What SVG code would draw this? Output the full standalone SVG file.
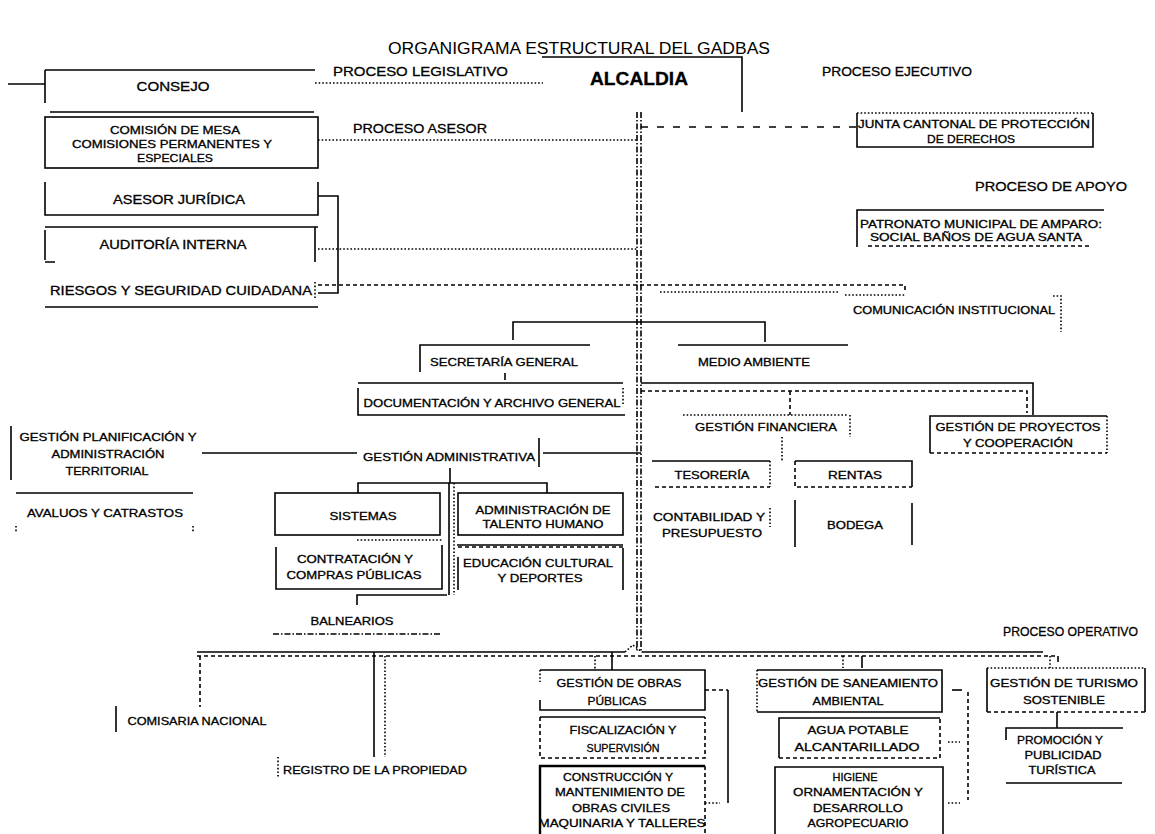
<svg xmlns="http://www.w3.org/2000/svg" width="1155" height="834" viewBox="0 0 1155 834">
<style>
.s{stroke:#000;stroke-width:1.6;fill:none}
.d{stroke-dasharray:4 3}
.o{stroke-dasharray:1.6 2}
.dd{stroke-dasharray:6 2 1.5 2}
.lg{stroke-dasharray:7 9}
text{font-family:"Liberation Sans",Arial,sans-serif;fill:#000;text-anchor:middle;font-size:11px;stroke:#000;stroke-width:0.3}
.p{font-size:13px;text-anchor:start}
.b{font-size:12px}
.ti{font-size:16px;stroke-width:0}
</style>
<rect width="1155" height="834" fill="#fff"/>
<text class="ti" x="579" y="54" textLength="382" lengthAdjust="spacingAndGlyphs">ORGANIGRAMA ESTRUCTURAL DEL GADBAS</text>

<g id="connectors">
<path class="s" d="M8,84 H45"/>
<path class="s o" d="M315,83 H543"/>
<path class="s o" d="M318,140 H637"/>
<path class="s" d="M318,196 H338 V293 H318"/>
<path class="s o" d="M318,249 H637"/>
<path class="s d" d="M318,285 H905 V293"/>
<path class="s o" d="M660,292 H840"/>
<path class="s o" d="M845,295 H905"/>
<path class="s dd" d="M637,112 V651"/>
<path class="s dd" d="M641,112 V651"/>
<path class="s lg" d="M641,127 H857"/>
<path class="s" d="M513,340 V322 H765 V342"/>
<path class="s" d="M641,383 H1033 V415"/>
<path class="s d" d="M641,391 H1027 V413"/>
<path class="s d" d="M790,391 V415"/>
<path class="s o" d="M782,437 V461"/>
<path class="s" d="M543,453 H641"/>
<path class="s" d="M202,453 H357"/>
<path class="s" d="M450,468 V483"/>
<path class="s" d="M358,493 V483 H547 V493"/>
<path class="s" d="M449,483 V595"/>
<path class="s o" d="M454,483 V595"/>
<path class="s o" d="M357,540 H443"/>
<path class="s" d="M457,545 H623"/>
<path class="s" d="M357,605 V595 H447"/>
<path class="s" d="M197,652 H625 M642,652 H1043"/>
<path class="s d" d="M197,656 H1058"/>
<path class="s o" d="M625,652 L633,645 L642,652"/>
<path class="s d" d="M200,656 V707"/>
<path class="s" d="M374,652 V757"/>
<path class="s o" d="M385,656 V757"/>
<path class="s o" d="M595,656 V670"/>
<path class="s" d="M612,652 V670"/>
<path class="s d" d="M705,690 H728"/>
<path class="s" d="M728,690 V803"/>
<path class="s o" d="M705,803 H720"/>
<path class="s o" d="M843,656 V668"/>
<path class="s" d="M862,656 V668"/>
<path class="s" d="M952,690 H962"/>
<path class="s d" d="M968,692 V800"/>
<path class="s o" d="M948,742 H960 M948,803 H960"/>
<path class="s o" d="M1050,656 V668"/>
<path class="s" d="M1058,656 V662"/>
<path class="s" d="M1057,712 V728"/>
</g>

<g id="proceso-labels">
<text class="p" x="333" y="76" textLength="175" lengthAdjust="spacingAndGlyphs">PROCESO LEGISLATIVO</text>
<text class="p" x="822" y="76" textLength="150" lengthAdjust="spacingAndGlyphs">PROCESO EJECUTIVO</text>
<text class="p" x="353" y="133" textLength="134" lengthAdjust="spacingAndGlyphs">PROCESO ASESOR</text>
<text class="p" x="975" y="191" textLength="152" lengthAdjust="spacingAndGlyphs">PROCESO DE APOYO</text>
<text class="p" x="1003" y="636" textLength="135" lengthAdjust="spacingAndGlyphs">PROCESO OPERATIVO</text>
</g>

<g id="alcaldia">
<path class="s" d="M542,57 H742 V112"/>
<text x="639" y="85" style="font-size:18px;font-weight:bold" textLength="98" lengthAdjust="spacingAndGlyphs">ALCALDIA</text>
</g>

<g id="consejo">
<path class="s" d="M45,70 H315 M45,70 V103 M50,112 H314"/>
<text class="b" x="173" y="91" textLength="73" lengthAdjust="spacingAndGlyphs">CONSEJO</text>
</g>

<g id="comision">
<rect class="s" x="45" y="117" width="273" height="51"/>
<text x="175" y="134" textLength="130" lengthAdjust="spacingAndGlyphs">COMISIÓN DE MESA</text>
<text x="172" y="148" textLength="200" lengthAdjust="spacingAndGlyphs">COMISIONES PERMANENTES Y</text>
<text x="175" y="162" textLength="76" lengthAdjust="spacingAndGlyphs">ESPECIALES</text>
</g>

<g id="asesor">
<path class="s" d="M45,182 V215 H318 V182"/>
<text class="b" x="179" y="204" textLength="132" lengthAdjust="spacingAndGlyphs">ASESOR JURÍDICA</text>
</g>

<g id="auditoria">
<path class="s" d="M45,227 H318 M45,230 V260 M45,262 H55 M315,227 V262"/>
<text class="b" x="173" y="249" textLength="147" lengthAdjust="spacingAndGlyphs">AUDITORÍA INTERNA</text>
</g>

<g id="riesgos">
<path class="s" d="M45,307 H318"/>
<path class="s o" d="M315,282 V300"/>
<text class="b" x="181" y="295" textLength="262" lengthAdjust="spacingAndGlyphs">RIESGOS Y SEGURIDAD CUIDADANA</text>
</g>

<g id="junta">
<path class="s o" d="M857,113 H1093"/>
<path class="s" d="M857,113 V147 H1093 V113"/>
<text x="974" y="128" textLength="232" lengthAdjust="spacingAndGlyphs">JUNTA CANTONAL DE PROTECCIÓN</text>
<text x="971" y="143" textLength="88" lengthAdjust="spacingAndGlyphs">DE DERECHOS</text>
</g>

<g id="patronato">
<path class="s" d="M857,247 V210 H1104"/>
<path class="s d" d="M868,246 H1090"/>
<text x="981" y="228" textLength="242" lengthAdjust="spacingAndGlyphs">PATRONATO MUNICIPAL DE AMPARO:</text>
<text x="976" y="241" textLength="212" lengthAdjust="spacingAndGlyphs">SOCIAL BAÑOS DE AGUA SANTA</text>
</g>

<g id="comunicacion">
<path class="s o" d="M1053,296 H1061 V332"/>
<text x="954" y="314" textLength="202" lengthAdjust="spacingAndGlyphs">COMUNICACIÓN INSTITUCIONAL</text>
</g>

<g id="secretaria">
<path class="s" d="M420,372 V345 H590 M505,373 V380"/>
<text x="504" y="366" textLength="148" lengthAdjust="spacingAndGlyphs">SECRETARÍA GENERAL</text>
</g>

<g id="medio-ambiente">
<path class="s" d="M678,345 H848"/>
<text x="754" y="366" textLength="112" lengthAdjust="spacingAndGlyphs">MEDIO AMBIENTE</text>
</g>

<g id="documentacion">
<path class="s" d="M358,383 H623 M358,388 V415 H625"/>
<path class="s o" d="M623,388 V405"/>
<text x="492" y="407" textLength="257" lengthAdjust="spacingAndGlyphs">DOCUMENTACIÓN Y ARCHIVO GENERAL</text>
</g>

<g id="financiera">
<path class="s o" d="M683,415 H848 M850,415 V437"/>
<text x="766" y="431" textLength="142" lengthAdjust="spacingAndGlyphs">GESTIÓN FINANCIERA</text>
</g>

<g id="proyectos">
<path class="s" d="M930,453 V416 H1107"/>
<path class="s o" d="M1107,416 V453"/>
<path class="s d" d="M930,453 H1107"/>
<text x="1018" y="431" textLength="165" lengthAdjust="spacingAndGlyphs">GESTIÓN DE PROYECTOS</text>
<text x="1018" y="447" textLength="110" lengthAdjust="spacingAndGlyphs">Y COOPERACIÓN</text>
</g>

<g id="administrativa">
<path class="s" d="M539,438 V467"/>
<text x="449" y="461" textLength="172" lengthAdjust="spacingAndGlyphs">GESTIÓN ADMINISTRATIVA</text>
</g>

<g id="planificacion">
<path class="s" d="M11,426 V480"/>
<text x="108" y="441" textLength="177" lengthAdjust="spacingAndGlyphs">GESTIÓN PLANIFICACIÓN Y</text>
<text x="108" y="458" textLength="113" lengthAdjust="spacingAndGlyphs">ADMINISTRACIÓN</text>
<text x="107" y="475" textLength="83" lengthAdjust="spacingAndGlyphs">TERRITORIAL</text>
</g>

<g id="avaluos">
<path class="s" d="M16,493 H193"/>
<path class="s o" d="M16,526 V533 M193,526 V533"/>
<text x="105" y="517" textLength="156" lengthAdjust="spacingAndGlyphs">AVALUOS Y CATRASTOS</text>
</g>

<g id="tesoreria">
<path class="s" d="M652,461 H770"/>
<path class="s d" d="M655,487 H770"/>
<path class="s o" d="M770,461 V487"/>
<text x="712" y="479" textLength="75" lengthAdjust="spacingAndGlyphs">TESORERÍA</text>
</g>

<g id="rentas">
<path class="s" d="M795,461 H912 V487"/>
<path class="s d" d="M795,461 V487 H912"/>
<text x="855" y="479" textLength="54" lengthAdjust="spacingAndGlyphs">RENTAS</text>
</g>

<g id="contabilidad">
<path class="s o" d="M770,508 V527"/>
<text x="709" y="521" textLength="112" lengthAdjust="spacingAndGlyphs">CONTABILIDAD Y</text>
<text x="712" y="537" textLength="100" lengthAdjust="spacingAndGlyphs">PRESUPUESTO</text>
</g>

<g id="bodega">
<path class="s" d="M795,500 V547 M912,503 V545"/>
<text x="855" y="529" textLength="56" lengthAdjust="spacingAndGlyphs">BODEGA</text>
</g>

<g id="sistemas">
<rect class="s" x="275" y="493" width="165" height="42"/>
<text x="363" y="520" textLength="67" lengthAdjust="spacingAndGlyphs">SISTEMAS</text>
</g>

<g id="talento-humano">
<rect class="s" x="458" y="493" width="165" height="42"/>
<text x="543" y="514" textLength="135" lengthAdjust="spacingAndGlyphs">ADMINISTRACIÓN DE</text>
<text x="543" y="528" textLength="121" lengthAdjust="spacingAndGlyphs">TALENTO HUMANO</text>
</g>

<g id="contratacion">
<path class="s" d="M276,547 V589 H442 V545"/>
<text x="355" y="563" textLength="116" lengthAdjust="spacingAndGlyphs">CONTRATACIÓN Y</text>
<text x="354" y="579" textLength="135" lengthAdjust="spacingAndGlyphs">COMPRAS PÚBLICAS</text>
</g>

<g id="educacion">
<path class="s d" d="M458,547 H623"/>
<path class="s" d="M458,557 V590 M623,548 V590"/>
<text x="538" y="567" textLength="150" lengthAdjust="spacingAndGlyphs">EDUCACIÓN CULTURAL</text>
<text x="540" y="582" textLength="85" lengthAdjust="spacingAndGlyphs">Y DEPORTES</text>
</g>

<g id="balnearios">
<path class="s dd" d="M273,634 H440"/>
<text x="352" y="625" textLength="83" lengthAdjust="spacingAndGlyphs">BALNEARIOS</text>
</g>

<g id="comisaria">
<path class="s" d="M116,706 V732"/>
<text x="197" y="725" textLength="139" lengthAdjust="spacingAndGlyphs">COMISARIA NACIONAL</text>
</g>

<g id="registro">
<path class="s o" d="M278,757 V778"/>
<text x="375" y="774" textLength="184" lengthAdjust="spacingAndGlyphs">REGISTRO DE LA PROPIEDAD</text>
</g>

<g id="obras-publicas">
<path class="s" d="M540,700 V710 H705 V670 H540"/>
<path class="s o" d="M540,670 V682"/>
<text x="619" y="687" textLength="125" lengthAdjust="spacingAndGlyphs">GESTIÓN DE OBRAS</text>
<text x="617" y="705" textLength="59" lengthAdjust="spacingAndGlyphs">PÚBLICAS</text>
</g>

<g id="fiscalizacion">
<path class="s" d="M540,717 H705"/>
<path class="s d" d="M540,717 V758 H705 V717"/>
<text x="623" y="734" textLength="107" lengthAdjust="spacingAndGlyphs">FISCALIZACIÓN Y</text>
<text x="623" y="752" textLength="73" lengthAdjust="spacingAndGlyphs">SUPERVISIÓN</text>
</g>

<g id="construccion">
<path class="s" d="M705,766 H540 V834" style="stroke-width:2.4"/>
<path class="s d" d="M705,766 V834"/>
<text x="618" y="781" textLength="110" lengthAdjust="spacingAndGlyphs">CONSTRUCCIÓN Y</text>
<text x="620" y="796" textLength="130" lengthAdjust="spacingAndGlyphs">MANTENIMIENTO DE</text>
<text x="621" y="812" textLength="98" lengthAdjust="spacingAndGlyphs">OBRAS CIVILES</text>
<text x="622" y="827" textLength="167" lengthAdjust="spacingAndGlyphs">MAQUINARIA Y TALLERES</text>
</g>

<g id="saneamiento">
<path class="s" d="M757,670 H942 V712 H757"/>
<path class="s o" d="M757,670 V712"/>
<text x="848" y="687" textLength="180" lengthAdjust="spacingAndGlyphs">GESTIÓN DE SANEAMIENTO</text>
<text x="848" y="705" textLength="71" lengthAdjust="spacingAndGlyphs">AMBIENTAL</text>
</g>

<g id="agua-potable">
<path class="s" d="M779,758 V718 H940"/>
<path class="s d" d="M779,758 H940 V718"/>
<text x="858" y="734" textLength="101" lengthAdjust="spacingAndGlyphs">AGUA POTABLE</text>
<text x="857" y="751" textLength="125" lengthAdjust="spacingAndGlyphs">ALCANTARILLADO</text>
</g>

<g id="higiene">
<path class="s" d="M775,834 V767 H943 V834"/>
<text x="855" y="781" textLength="45" lengthAdjust="spacingAndGlyphs">HIGIENE</text>
<text x="858" y="796" textLength="130" lengthAdjust="spacingAndGlyphs">ORNAMENTACIÓN Y</text>
<text x="858" y="812" textLength="90" lengthAdjust="spacingAndGlyphs">DESARROLLO</text>
<text x="858" y="827" textLength="101" lengthAdjust="spacingAndGlyphs">AGROPECUARIO</text>
</g>

<g id="turismo">
<path class="s o" d="M987,668 H1145"/>
<path class="s" d="M987,668 V712 M1145,668 V712"/>
<path class="s d" d="M987,712 H1145"/>
<text x="1064" y="687" textLength="148" lengthAdjust="spacingAndGlyphs">GESTIÓN DE TURISMO</text>
<text x="1064" y="704" textLength="82" lengthAdjust="spacingAndGlyphs">SOSTENIBLE</text>
</g>

<g id="promocion">
<path class="s" d="M1006,740 V728 H1123 M1006,783 H1122"/>
<text x="1060" y="744" textLength="86" lengthAdjust="spacingAndGlyphs">PROMOCIÓN Y</text>
<text x="1063" y="759" textLength="77" lengthAdjust="spacingAndGlyphs">PUBLICIDAD</text>
<text x="1062" y="774" textLength="67" lengthAdjust="spacingAndGlyphs">TURÍSTICA</text>
</g>
</svg>
